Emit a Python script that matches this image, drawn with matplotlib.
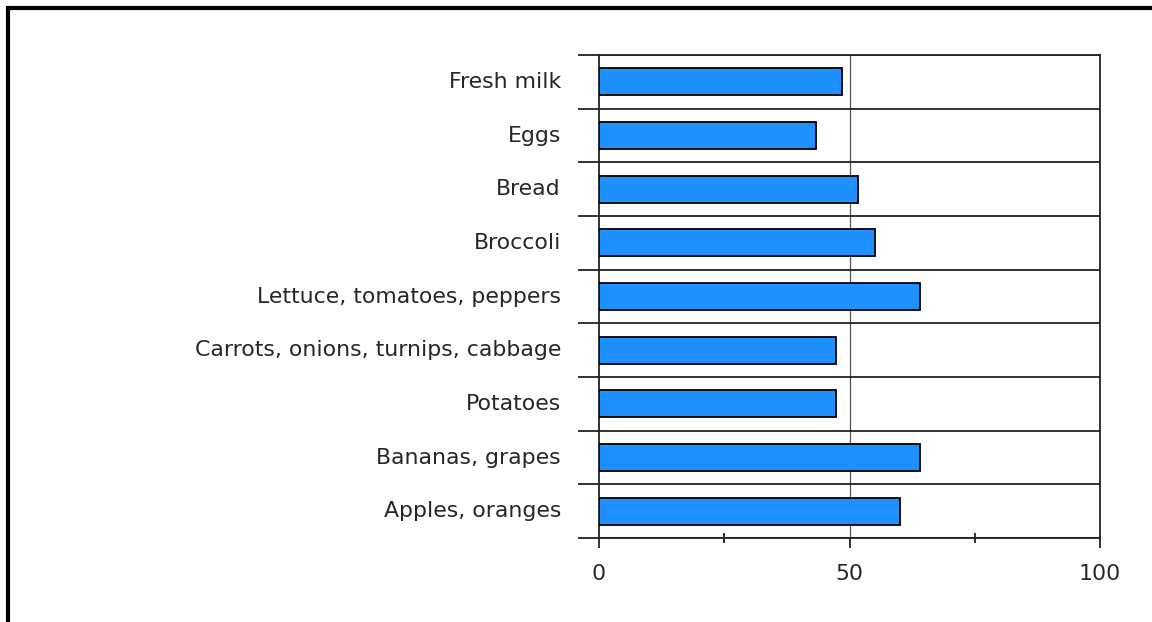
import matplotlib
matplotlib.use("Agg")
import matplotlib.pyplot as plt
from matplotlib.lines import Line2D
import numpy as np

categories = [
    "Apples, oranges",
    "Bananas, grapes",
    "Potatoes",
    "Carrots, onions, turnips, cabbage",
    "Lettuce, tomatoes, peppers",
    "Broccoli",
    "Bread",
    "Eggs",
    "Fresh milk",
]
values = [60, 64, 47.3, 47.3, 64, 55, 51.7, 43.3, 48.5]
x_ticks = [0, 50, 100]

plt.rcParams['font.family'] = ['DejaVu Sans']

fig = plt.figure(figsize=(11.52, 6.22), dpi=100)
ax = fig.add_axes([0.52, 0.135, 0.4349, 0.7765])

y = np.arange(len(categories))
ax.barh(y, values, height=0.5, color='#1E90FF', edgecolor='black', linewidth=1.3, zorder=3)

ax.set_xlim(0, 100)
ax.set_ylim(-0.5, len(categories) - 0.5)

# category separators on the y axis
ax.set_yticks(np.arange(len(categories) + 1) - 0.5)
ax.set_yticklabels([])
ax.tick_params(axis='y', which='major', length=15, width=1.3, color='#222222')
for yy in np.arange(len(categories) + 1) - 0.5:
    ax.axhline(yy, color='#222222', linewidth=1.3, zorder=2)
for i, name in enumerate(categories):
    ax.text(-7.6, i, name, ha='right', va='center', fontsize=15.8, color='#262626')

ax.set_xticks(x_ticks)
ax.set_xticks([25, 75], minor=True)
ax.tick_params(axis='x', which='major', length=7, width=1.3, direction='out', pad=12,
               labelsize=15.8, labelcolor='#262626', color='#222222')
ax.tick_params(axis='x', which='minor', length=7, width=1.3, direction='inout', color='#222222')
ax.axvline(50, color='#555555', linewidth=0.9, zorder=1)

for side in ['top', 'bottom', 'left', 'right']:
    ax.spines[side].set_color('#222222')
    ax.spines[side].set_linewidth(1.3)

# thick frame along the top and left edges
fig.add_artist(Line2D([8 / 1152, 8 / 1152], [0, 1 - 6 / 622], transform=fig.transFigure,
                      color='black', linewidth=3, solid_capstyle='butt'))
fig.add_artist(Line2D([6.5 / 1152, 1], [1 - 8 / 622, 1 - 8 / 622], transform=fig.transFigure,
                      color='black', linewidth=3, solid_capstyle='butt'))

fig.savefig("out.png", dpi=100)
